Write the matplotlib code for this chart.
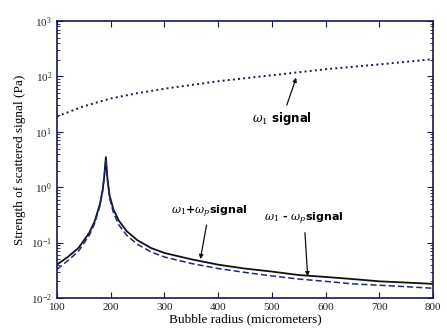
import matplotlib
matplotlib.use("Agg")
import matplotlib.pyplot as plt
import numpy as np

# bubble radius (micrometers)
radius = [100, 120, 140, 160, 170, 180, 185, 188, 191, 194, 198, 205, 215, 230,
          250, 275, 300, 350, 400, 450, 500, 550, 600, 650, 700, 750, 800]
# w1 + wp signal (solid)
sum_sig = [0.040, 0.055, 0.080, 0.15, 0.24, 0.50, 0.90, 1.6, 3.5, 1.4, 0.70, 0.40,
           0.25, 0.16, 0.11, 0.080, 0.065, 0.050, 0.040, 0.034, 0.030, 0.026,
           0.024, 0.022, 0.020, 0.019, 0.018]
# w1 - wp signal (dashed)
diff_sig = [0.033, 0.047, 0.070, 0.135, 0.22, 0.46, 0.85, 1.5, 3.2, 1.3, 0.62, 0.35,
            0.21, 0.135, 0.093, 0.068, 0.055, 0.042, 0.034, 0.029, 0.025, 0.022,
            0.020, 0.018, 0.017, 0.016, 0.015]

# w1 signal (dotted)
r_w1 = [100, 150, 200, 250, 300, 400, 500, 600, 700, 800]
w1_sig = [19, 29, 40, 50, 60, 82, 105, 135, 165, 205]

navy = "#141a4a"
plt.rcParams["font.family"] = ["Liberation Serif", "DejaVu Serif"]
plt.rcParams["mathtext.fontset"] = "dejavuserif"

fig = plt.figure(figsize=(4.47, 3.29), dpi=100)
ax = fig.add_axes([0.1275, 0.0942, 0.8412, 0.8418])

ax.semilogy(radius, sum_sig, "-", color="#111111", lw=1.3)
ax.semilogy(radius, diff_sig, "--", color="#1c2a80", lw=1.1, dashes=(4, 2))
ax.semilogy(r_w1, w1_sig, ":", color=navy, lw=1.4)

ax.set_xlim(100, 800)
ax.set_ylim(1e-2, 1e3)
ax.set_xticks(np.arange(100, 801, 100))

for s in ax.spines.values():
    s.set_color(navy)
    s.set_linewidth(1.2)
ax.tick_params(which="both", direction="in", top=True, right=True, colors=navy,
               labelcolor="#222222", labelsize=8)
ax.tick_params(which="major", length=4)
ax.tick_params(which="minor", length=2)
ax.tick_params(axis="x", which="minor", bottom=False, top=False)

ax.set_xlabel("Bubble radius (micrometers)", fontsize=9.5, labelpad=1)
ax.set_ylabel("Strength of scattered signal (Pa)", fontsize=9.5, labelpad=4)

arrow = dict(arrowstyle="-|>", color="#111111", lw=0.9, mutation_scale=6)
ax.annotate(r"$\omega_1$ signal", xy=(547, 106), xytext=(519, 12),
            ha="center", va="bottom", fontsize=8.5, fontweight="bold",
            family="DejaVu Sans", arrowprops=arrow)
ax.annotate(r"$\omega_1$+$\omega_p$signal", xy=(366, 0.045), xytext=(383, 0.26),
            ha="center", va="bottom", fontsize=8, fontweight="bold",
            family="DejaVu Sans", arrowprops=arrow)
ax.annotate(r"$\omega_1$ - $\omega_p$signal", xy=(567, 0.022), xytext=(560, 0.19),
            ha="center", va="bottom", fontsize=8, fontweight="bold",
            family="DejaVu Sans", arrowprops=arrow)

fig.savefig("out.png", dpi=100)
